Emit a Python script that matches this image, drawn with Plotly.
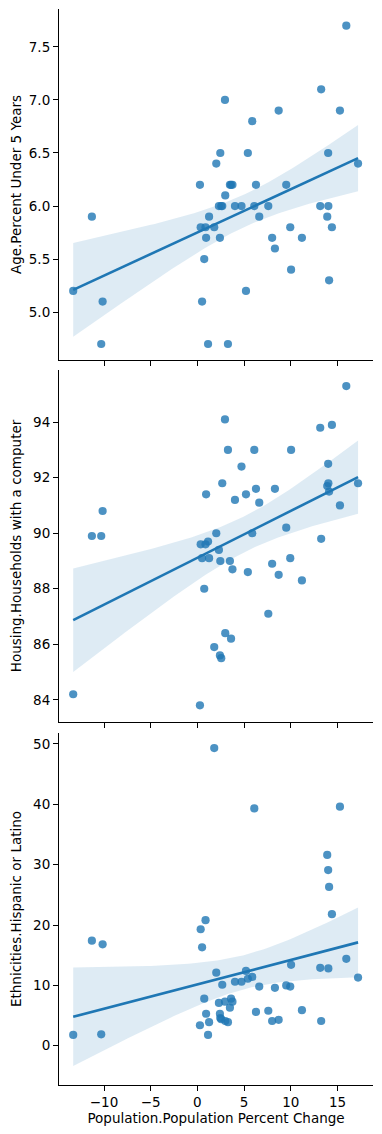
import numpy as np
import plotly.graph_objects as go

# Data
pop_change = [-13.3, -11.3, -10.15, -10.3, 0.27, 0.35, 0.5, 0.73, 0.87, 0.93,
              1.14, 1.25, 1.8, 2.02, 2.3, 2.41, 2.45, 2.55, 2.66, 2.95,
              2.98, 3.27, 3.48, 3.6, 3.75, 4.02, 4.72, 5.2, 5.4, 5.87,
              6.09, 6.27, 6.62, 7.59, 8.0, 8.3, 8.7, 9.51, 9.94, 10.03,
              11.19, 13.15, 13.25, 13.9, 14.0, 14.02, 14.1, 14.4, 15.26, 15.94,
              17.2]
under5 = [5.2, 5.9, 5.1, 4.7, 6.2, 5.8, 5.1, 5.5, 5.8, 5.7,
          4.7, 5.9, 5.8, 6.4, 6.0, 5.7, 6.5, 6.0, 6.0, 7.0,
          6.1, 4.7, 6.2, 6.2, 6.2, 6.0, 6.0, 5.2, 6.5, 6.8,
          6.0, 6.2, 5.9, 6.0, 5.7, 5.6, 6.9, 6.2, 5.8, 5.4,
          5.7, 6.0, 7.1, 5.9, 6.5, 6.0, 5.3, 5.8, 6.9, 7.7,
          6.4]
computer = [84.2, 89.9, 90.8, 89.9, 83.8, 89.6, 89.1, 88.0, 89.6, 91.4,
            89.7, 89.1, 85.9, 90.0, 89.4, 85.6, 89.0, 85.5, 91.8, 94.1,
            86.4, 93.0, 89.0, 86.2, 88.7, 91.2, 92.4, 91.4, 88.6, 90.0,
            93.0, 91.6, 91.1, 87.1, 88.9, 91.6, 88.5, 90.2, 89.1, 93.0,
            88.3, 93.8, 89.8, 91.7, 92.5, 91.8, 91.5, 93.9, 91.0, 95.3,
            91.8]
hispanic = [1.8, 17.4, 16.8, 1.9, 3.4, 19.3, 16.3, 7.8, 20.8, 5.3,
            1.8, 3.9, 49.3, 12.1, 7.1, 5.3, 4.6, 4.4, 10.1, 7.3,
            4.1, 3.9, 6.3, 7.8, 7.3, 10.6, 10.6, 12.4, 11.1, 11.4,
            39.3, 5.6, 9.8, 5.8, 4.1, 9.6, 4.3, 10.0, 9.8, 13.4,
            5.9, 12.9, 4.1, 31.6, 29.1, 12.8, 26.3, 21.8, 39.6, 14.4,
            11.3]

x_title = "Population.Population Percent Change"
y_titles = ["Age.Percent Under 5 Years",
            "Housing.Households with a computer",
            "Ethnicities.Hispanic or Latino"]
series = [under5, computer, hispanic]
x_tick_vals = [-10, -5, 0, 5, 10, 15]
y_tick_vals = [[5.0, 5.5, 6.0, 6.5, 7.0, 7.5],
               [84, 86, 88, 90, 92, 94],
               [0, 10, 20, 30, 40, 50]]
y_tick_text = [["5.0", "5.5", "6.0", "6.5", "7.0", "7.5"],
               ["84", "86", "88", "90", "92", "94"],
               ["0", "10", "20", "30", "40", "50"]]
y_ranges = [[4.549, 7.857], [83.2, 95.88], [-6.5, 51.8]]
x_range = [-14.82, 18.8]

# page body has an 8px default margin, so the figure is offset by 8px
OFF = 8
W, H = 382 - OFF, 1134 - OFF
ml, mr, mt, mb = 59 - OFF, 9, 9 - OFF, 1134 - 1085
ph = H - mt - mb
panels_px = [(9, 360), (370, 722), (733, 1085)]
domains = [[1 - (b - OFF - mt) / ph, 1 - (t - OFF - mt) / ph]
           for t, b in panels_px]

BLUE = "#1f77b4"
FONT = "DejaVu Sans"
FS = 13.5

fig = go.Figure()
x = np.array(pop_change, dtype=float)
n = len(x)
t_crit = 2.0096  # 95% two-sided, df = 49

for i, yv in enumerate(series):
    y = np.array(yv, dtype=float)
    b1, b0 = np.polyfit(x, y, 1)
    xg = np.linspace(x.min(), x.max(), 100)
    yg = b0 + b1 * xg
    resid = y - (b0 + b1 * x)
    s = np.sqrt(np.sum(resid ** 2) / (n - 2))
    sxx = np.sum((x - x.mean()) ** 2)
    se = s * np.sqrt(1.0 / n + (xg - x.mean()) ** 2 / sxx)
    lo, hi = yg - t_crit * se, yg + t_crit * se
    xa = "x" if i == 0 else f"x{i+1}"
    ya = "y" if i == 0 else f"y{i+1}"
    fig.add_trace(go.Scatter(x=np.concatenate([xg, xg[::-1]]),
                             y=np.concatenate([hi, lo[::-1]]),
                             fill="toself", fillcolor="rgba(31,119,180,0.15)",
                             line=dict(width=0), mode="lines", hoverinfo="skip",
                             showlegend=False, xaxis=xa, yaxis=ya))
    fig.add_trace(go.Scatter(x=x, y=y, mode="markers",
                             marker=dict(size=8.2, color=BLUE, opacity=0.8,
                                         line=dict(width=0)),
                             showlegend=False, xaxis=xa, yaxis=ya))
    fig.add_trace(go.Scatter(x=xg, y=yg, mode="lines",
                             line=dict(color=BLUE, width=2.6),
                             showlegend=False, xaxis=xa, yaxis=ya))

axis_common = dict(showgrid=False, zeroline=False, showline=True,
                   linecolor="black", linewidth=1.1, ticks="outside",
                   ticklen=5, tickwidth=1.1, tickcolor="black",
                   automargin=False,
                   tickfont=dict(family=FONT, size=FS, color="black"))

layout = dict(width=W, height=H, margin=dict(l=ml, r=mr, t=mt, b=mb,
                                             autoexpand=False),
              plot_bgcolor="white", paper_bgcolor="white",
              font=dict(family=FONT, size=FS, color="black"))
for i in range(3):
    xk = "xaxis" if i == 0 else f"xaxis{i+1}"
    yk = "yaxis" if i == 0 else f"yaxis{i+1}"
    xa = "x" if i == 0 else f"x{i+1}"
    ya = "y" if i == 0 else f"y{i+1}"
    layout[xk] = dict(axis_common, domain=[0, 1], range=x_range,
                      anchor=ya, tickvals=x_tick_vals,
                      showticklabels=(i == 2),
                      title=dict(text=x_title if i == 2 else "",
                                 font=dict(family=FONT, size=FS), standoff=2))
    if i > 0:
        layout[xk]["matches"] = "x"
    layout[yk] = dict(axis_common, domain=domains[i], range=y_ranges[i],
                      anchor=xa, tickvals=y_tick_vals[i],
                      ticktext=y_tick_text[i],
                      title=dict(text=y_titles[i],
                                 font=dict(family=FONT, size=FS), standoff=8))
fig.update_layout(**layout)
fig.write_html("out.html")
